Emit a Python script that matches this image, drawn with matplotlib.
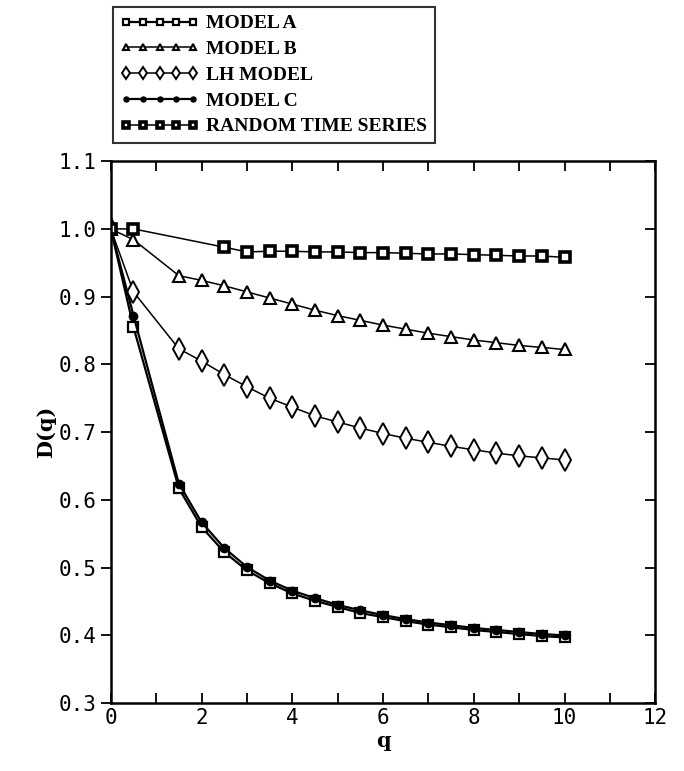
import matplotlib
matplotlib.use("Agg")
import matplotlib.pyplot as plt
from matplotlib.ticker import MultipleLocator

q = [0, 0.5, 1.5, 2, 2.5, 3, 3.5, 4, 4.5, 5, 5.5, 6, 6.5, 7, 7.5, 8, 8.5, 9, 9.5, 10]

model_a = [1.0, 0.855, 0.617, 0.560, 0.523, 0.496, 0.477, 0.462, 0.451, 0.442,
           0.433, 0.427, 0.421, 0.416, 0.412, 0.408, 0.405, 0.402, 0.399, 0.397]
model_b = [1.0, 0.984, 0.931, 0.924, 0.916, 0.907, 0.898, 0.889, 0.880, 0.872,
           0.865, 0.858, 0.852, 0.846, 0.841, 0.836, 0.832, 0.828, 0.825, 0.822]
lh_model = [1.0, 0.907, 0.823, 0.805, 0.785, 0.767, 0.750, 0.737, 0.724, 0.715,
            0.706, 0.698, 0.691, 0.685, 0.679, 0.674, 0.669, 0.665, 0.662, 0.659]
model_c = [1.0, 0.872, 0.624, 0.567, 0.529, 0.501, 0.481, 0.466, 0.455, 0.445,
           0.437, 0.430, 0.424, 0.419, 0.415, 0.411, 0.408, 0.405, 0.402, 0.400]

q_rand = [0, 0.5, 2.5, 3, 3.5, 4, 4.5, 5, 5.5, 6, 6.5, 7, 7.5, 8, 8.5, 9, 9.5, 10]
random_ts = [1.0, 1.0, 0.973, 0.966, 0.967, 0.967, 0.966, 0.966, 0.965, 0.965,
             0.964, 0.963, 0.963, 0.962, 0.961, 0.960, 0.960, 0.958]

fig = plt.figure(figsize=(6.84, 7.71), dpi=100)
ax = fig.add_axes([0.162, 0.088, 0.796, 0.703])

ax.plot(q, model_a, color="black", lw=1.6, marker="s", ms=6.5, mfc="white",
        mec="black", mew=1.6, label="MODEL A")
ax.plot(q, model_b, color="black", lw=1.1, marker="^", ms=8, mfc="white",
        mec="black", mew=1.5, label="MODEL B")
ax.plot(q, lh_model, color="black", lw=1.1, marker="d", ms=11, mfc="white",
        mec="black", mew=1.4, label="LH MODEL")
ax.plot(q, model_c, color="black", lw=1.6, marker="o", ms=6, mfc="black",
        mec="black", label="MODEL C")
ax.plot(q_rand, random_ts, color="black", lw=1.1, marker="s", ms=7, mfc="white",
        mec="black", mew=2.6, label="RANDOM TIME SERIES")

ax.set_xlim(0, 12)
ax.set_ylim(0.3, 1.1)
ax.xaxis.set_major_locator(MultipleLocator(2))
ax.xaxis.set_minor_locator(MultipleLocator(1))
ax.yaxis.set_major_locator(MultipleLocator(0.1))
ax.tick_params(axis="x", which="both", direction="in", top=True, length=7, width=1.3)
ax.tick_params(axis="y", which="both", direction="out", length=7, width=1.3)
for spine in ax.spines.values():
    spine.set_linewidth(1.8)

# right axis ticks point inward
rax = ax.secondary_yaxis("right")
rax.set_yticks([0.3, 0.4, 0.5, 0.6, 0.7, 0.8, 0.9, 1.0, 1.1])
rax.tick_params(direction="in", length=7, width=1.3, labelright=False)

for lab in ax.get_xticklabels() + ax.get_yticklabels():
    lab.set_fontfamily("DejaVu Sans Mono")
    lab.set_fontsize(15)

ax.set_xlabel("q", fontfamily="DejaVu Serif", fontweight="bold", fontsize=15, labelpad=2)
ax.set_ylabel("D(q)", fontfamily="DejaVu Serif", fontweight="bold", fontsize=15, labelpad=2)

leg = fig.legend(loc="upper left", bbox_to_anchor=(0.165, 0.991), borderaxespad=0,
                 numpoints=5, handlelength=4.0, handletextpad=0.4, labelspacing=0.42,
                 borderpad=0.4, frameon=True, fancybox=False, markerscale=0.6,
                 prop={"family": "Liberation Serif", "weight": "bold", "size": 14})
leg.get_frame().set_edgecolor("black")
leg.get_frame().set_linewidth(1.5)

plt.savefig("out.png", dpi=100)
